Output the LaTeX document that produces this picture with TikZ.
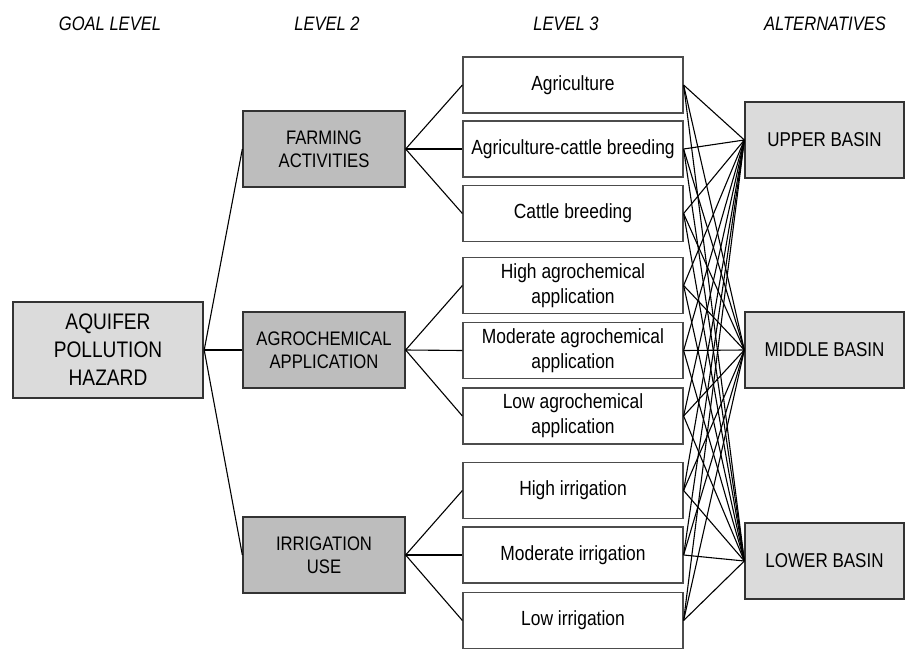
\documentclass[tikz,border=0pt]{standalone}
\usepackage{fontspec}
\setmainfont[FakeStretch=0.85]{Liberation Sans}
\begin{document}
\begin{tikzpicture}[x=1pt,y=-1pt,
  base/.style={rectangle,draw=black!80,align=center,inner sep=0pt},
  goalbox/.style={base,fill=black!14,line width=2.4pt,minimum width=190pt,minimum height=96pt,font=\fontsize{22.5}{28}\selectfont},
  lvtwo/.style={base,fill=black!26,line width=1.3pt,minimum width=162pt,minimum height=76pt,font=\fontsize{19.6}{23}\selectfont},
  lvthree/.style={base,fill=white,draw=black!70,line width=1.2pt,minimum width=220pt,minimum height=56pt,font=\fontsize{20.5}{25}\selectfont},
  altbox/.style={base,fill=black!14,line width=1.3pt,minimum width=159pt,minimum height=76pt,font=\fontsize{20}{23}\selectfont},
  hdr/.style={font=\fontsize{19.5}{22}\selectfont\itshape},
  link/.style={draw=black,line width=1.1pt}]
\useasboundingbox (0,0) rectangle (907,650);
% headers
\node[hdr] (h1) at (110,24) {GOAL LEVEL};
\node[hdr] (h2) at (327,24) {LEVEL 2};
\node[hdr] (h3) at (566,24) {LEVEL 3};
\node[hdr] (h4) at (825,24) {ALTERNATIVES};
% nodes
\node[goalbox] (goal) at (108,350) {AQUIFER\\POLLUTION\\HAZARD};
\node[lvtwo] (farm) at (324,149) {FARMING\\ACTIVITIES};
\node[lvtwo] (agro) at (324,350) {AGROCHEMICAL\\APPLICATION};
\node[lvtwo] (irr) at (324,555) {IRRIGATION\\USE};
\node[lvthree] (a1) at (573,85) {Agriculture};
\node[lvthree] (a2) at (573,149) {Agriculture-cattle breeding};
\node[lvthree] (a3) at (573,213.5) {Cattle breeding};
\node[lvthree] (b1) at (573,285.5) {High agrochemical\\application};
\node[lvthree] (b2) at (573,350.5) {Moderate agrochemical\\application};
\node[lvthree] (b3) at (573,416) {Low agrochemical\\application};
\node[lvthree] (c1) at (573,490.5) {High irrigation};
\node[lvthree] (c2) at (573,555) {Moderate irrigation};
\node[lvthree] (c3) at (573,620.5) {Low irrigation};
\node[altbox] (up) at (824.5,140) {UPPER BASIN};
\node[altbox] (mid) at (824.5,350) {MIDDLE BASIN};
\node[altbox] (low) at (824.5,561) {LOWER BASIN};
% links
\foreach \t in {farm,agro,irr} \draw[link] (goal.east) -- (\t.west);
\foreach \t in {a1,a2,a3} \draw[link] (farm.east) -- (\t.west);
\foreach \t in {b1,b2,b3} \draw[link] (agro.east) -- (\t.west);
\foreach \t in {c1,c2,c3} \draw[link] (irr.east) -- (\t.west);
\foreach \s in {a1,a2,a3,b1,b2,b3,c1,c2,c3}
  \foreach \t in {up,mid,low}
    \draw[link] (\s.east) -- (\t.west);
\end{tikzpicture}
\end{document}
